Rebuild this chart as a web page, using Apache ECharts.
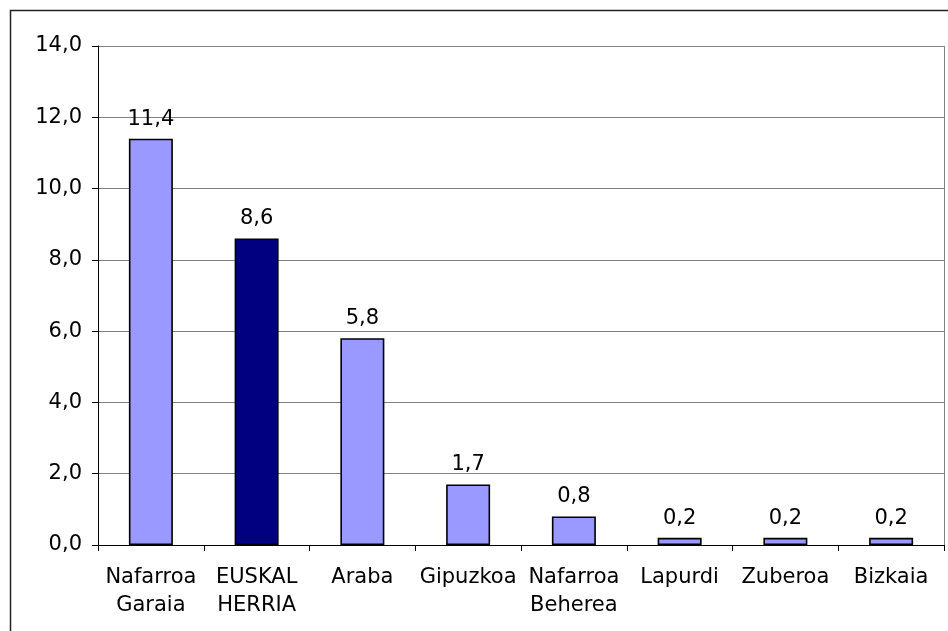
<!DOCTYPE html>
<html>
<head>
<meta charset="utf-8">
<script src="https://cdn.jsdelivr.net/npm/echarts@6/dist/echarts.min.js"></script>
<style>html,body{margin:0;padding:0;background:#fff}#c{width:948px;height:631px}</style>
</head>
<body>
<div id="c"></div>
<script>
var categories = ["Nafarroa Garaia", "EUSKAL HERRIA", "Araba", "Gipuzkoa", "Nafarroa Beherea", "Lapurdi", "Zuberoa", "Bizkaia"];
var values = [11.4, 8.6, 5.8, 1.7, 0.8, 0.2, 0.2, 0.2];
var highlight = "EUSKAL HERRIA";
var yTicks = [0, 2, 4, 6, 8, 10, 12, 14];

var fmt = function (v) { return Number(v).toFixed(1).replace('.', ','); };
var chart = echarts.init(document.getElementById('c'), null, { renderer: 'canvas' });
var FONT = 'DejaVu Sans';
var FS = 21;
chart.setOption({
  animation: false,
  backgroundColor: '#ffffff',
  graphic: [{
    type: 'rect', left: 8, top: 8, z: -1,
    shape: { width: 960, height: 640 },
    style: { fill: 'none', stroke: '#222222', lineWidth: 1.5 }
  }],
  grid: { left: 98, top: 46, right: 4, height: 499, containLabel: false },
  xAxis: {
    type: 'category',
    data: categories,
    axisLine: { lineStyle: { color: '#000', width: 1 } },
    axisTick: { show: true, alignWithLabel: false, length: 6, lineStyle: { color: '#000' } },
    axisLabel: {
      interval: 0, margin: 19, color: '#000', fontFamily: FONT, fontSize: FS, lineHeight: 28,
      formatter: function (v) { return v.replace(' ', '\n'); }
    },
    splitLine: { show: false }
  },
  yAxis: {
    type: 'value', min: 0, max: 14, interval: 2,
    axisLine: { show: true, lineStyle: { color: '#000', width: 1 } },
    axisTick: { show: true, length: 6, lineStyle: { color: '#000' } },
    axisLabel: { color: '#000', fontFamily: FONT, fontSize: FS, margin: 16, formatter: fmt },
    splitLine: { show: true, lineStyle: { color: '#808080', width: 1 } }
  },
  series: [{
    type: 'bar',
    barWidth: 44,
    data: values.map(function (v, i) {
      return {
        value: v,
        itemStyle: { color: categories[i] === highlight ? '#000080' : '#9999FF' }
      };
    }),
    itemStyle: { borderColor: '#000', borderWidth: 1.6 },
    label: {
      show: true, position: 'top', distance: 9, color: '#000',
      fontFamily: FONT, fontSize: FS,
      formatter: function (p) { return fmt(p.value); }
    }
  }, {
    type: 'line', data: [], silent: true,
    markLine: {
      silent: true, symbol: 'none', label: { show: false },
      lineStyle: { color: '#808080', type: 'solid', width: 1 },
      data: [[{ coord: [7.5, 0], x: 944 }, { coord: [7.5, 14], x: 944 }]]
    }
  }]
});
</script>
</body>
</html>
